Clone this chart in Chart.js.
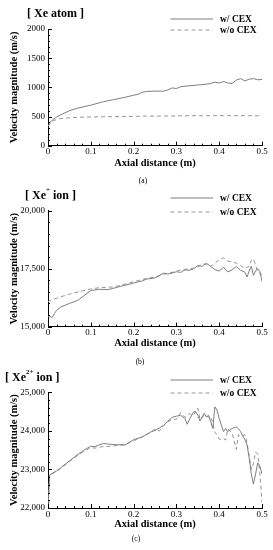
<!DOCTYPE html>
<html><head><meta charset="utf-8">
<script src="https://cdn.jsdelivr.net/npm/chart.js@4/dist/chart.umd.min.js"></script>
<style>
html,body{margin:0;padding:0;background:#fff;}
#page{position:relative;width:273px;height:550px;overflow:hidden;background:#fff;font-family:"Liberation Serif","Times New Roman",serif;color:#000;}
canvas{position:absolute;left:0;}
.ttl{position:absolute;font-weight:bold;font-size:12px;white-space:nowrap;line-height:14px;transform:translateY(-50%);}
.ttl sup{font-size:7px;position:relative;top:-1px;vertical-align:top;line-height:7px;}
.cap{position:absolute;font-size:7.5px;line-height:8px;white-space:nowrap;transform:translate(-50%,-50%);}
.legtxt{position:absolute;left:220px;font-weight:bold;font-size:9.5px;line-height:10px;white-space:nowrap;transform:translateY(-50%);}
.legline{position:absolute;left:170px;width:44px;height:4px;transform:translateY(-50%);}
</style></head>
<body><div id="page"></div>
<script>
// ---------- DATA ----------
const xTicks = [0, 0.1, 0.2, 0.3, 0.4, 0.5];
const xTickLabels = ["0", "0.1", "0.2", "0.3", "0.4", "0.5"];
const seriesNames = ["w/ CEX", "w/o CEX"];

// (a) Xe atom
const aX = [0, 0.005, 0.01, 0.02, 0.03, 0.05, 0.07, 0.1, 0.13, 0.15, 0.18, 0.2, 0.21, 0.22, 0.23, 0.25, 0.27, 0.28, 0.29, 0.3, 0.31, 0.32, 0.35, 0.37, 0.38, 0.39, 0.4, 0.41, 0.42, 0.43, 0.44, 0.45, 0.46, 0.47, 0.48, 0.49, 0.5];
const aWith = [337, 400, 440, 490, 530, 600, 645, 695, 755, 785, 830, 865, 880, 915, 930, 935, 935, 955, 990, 980, 1010, 1020, 1040, 1055, 1065, 1090, 1075, 1100, 1075, 1065, 1125, 1150, 1110, 1140, 1150, 1130, 1135];
const aWithout = [330, 380, 420, 450, 465, 480, 487, 492, 496, 498, 500, 503, 504, 505, 506, 507, 508, 509, 510, 511, 512, 513, 514, 514, 515, 515, 515, 515, 515, 515, 515, 515, 515, 514, 513, 512, 512];
const aYTicks = [0, 500, 1000, 1500, 2000];
const aYTickLabels = ["0", "500", "1000", "1500", "2000"];

// (b) Xe+ ion
const bX = [0, 0.005, 0.01, 0.015, 0.02, 0.03, 0.05, 0.07, 0.08, 0.1, 0.12, 0.14, 0.15, 0.17, 0.2, 0.22, 0.23, 0.25, 0.27, 0.28, 0.29, 0.3, 0.31, 0.32, 0.33, 0.34, 0.35, 0.36, 0.37, 0.38, 0.39, 0.4, 0.41, 0.42, 0.43, 0.44, 0.45, 0.46, 0.465, 0.47, 0.475, 0.48, 0.485, 0.49, 0.495, 0.5];
const bWith = [15430, 15420, 15400, 15560, 15700, 15850, 16000, 16140, 16280, 16560, 16610, 16600, 16640, 16740, 16880, 16970, 17050, 17100, 17310, 17270, 17310, 17370, 17340, 17450, 17430, 17490, 17640, 17600, 17740, 17600, 17460, 17400, 17560, 17360, 17450, 17600, 17430, 17350, 17140, 17400, 17600, 17210, 17400, 17500, 17380, 16950];
const bWithout = [16070, 16130, 16170, 16200, 16220, 16290, 16400, 16500, 16540, 16630, 16680, 16700, 16710, 16780, 16940, 17030, 17080, 17140, 17260, 17300, 17340, 17400, 17440, 17470, 17500, 17530, 17570, 17710, 17690, 17600, 17740, 17880, 17970, 17830, 17800, 17740, 17640, 17500, 17560, 17600, 17850, 17930, 17650, 17360, 17300, 17220];
const bYTicks = [15000, 17500, 20000];
const bYTickLabels = ["15,000", "17,500", "20,000"];

// (c) Xe2+ ion
const cX = [0, 0.004, 0.01, 0.02, 0.03, 0.05, 0.07, 0.09, 0.1, 0.11, 0.12, 0.13, 0.15, 0.18, 0.2, 0.22, 0.24, 0.25, 0.26, 0.27, 0.28, 0.29, 0.3, 0.31, 0.32, 0.325, 0.33, 0.34, 0.345, 0.35, 0.355, 0.36, 0.365, 0.37, 0.375, 0.38, 0.385, 0.39, 0.395, 0.4, 0.41, 0.415, 0.42, 0.43, 0.44, 0.445, 0.45, 0.46, 0.465, 0.47, 0.475, 0.48, 0.485, 0.49, 0.495, 0.5];
const cWith = [22000, 22860, 22900, 22960, 23045, 23220, 23390, 23540, 23600, 23590, 23640, 23670, 23645, 23630, 23770, 23840, 23970, 24010, 24070, 24140, 24250, 24350, 24380, 24400, 24320, 24170, 24280, 24490, 24500, 24400, 24250, 24360, 24450, 24360, 24400, 24240, 24060, 24620, 24530, 24320, 23980, 24060, 23980, 24060, 24100, 24050, 23980, 23770, 23640, 23300, 22880, 22620, 22880, 23170, 23090, 22880];
const cWithout = [22000, 22840, 22880, 22950, 23030, 23200, 23370, 23510, 23560, 23550, 23580, 23590, 23600, 23650, 23740, 23840, 23960, 24050, 23990, 24130, 24230, 24300, 24300, 24470, 24350, 24380, 24450, 24400, 24500, 24590, 24300, 24330, 24420, 24380, 24350, 24380, 24200, 23950, 23900, 23780, 23800, 23760, 24050, 23950, 23520, 23900, 23850, 23900, 23700, 23350, 23000, 23150, 23450, 23400, 22900, 22150];
const cYTicks = [22000, 23000, 24000, 25000];
const cYTickLabels = ["22,000", "23,000", "24,000", "25,000"];

// ---------- LAYOUT ----------
const SERIF = '"Liberation Serif","Times New Roman",serif';
const panels = [
  {top:0,   H:183, areaTop:29,    areaBottom:145.7, xTitleY:163.3, x:aX, w:aWith, wo:aWithout, yT:aYTicks, yL:aYTickLabels, yMinor:100,
   title:'[ Xe atom ]', titleX:27, titleY:12.7, leg:[18.7,30.2], cap:'(a)', capX:143, capY:181},
  {top:183, H:183, areaTop:210.8-183, areaBottom:326.6-183, xTitleY:343.3-183, x:bX, w:bWith, wo:bWithout, yT:bYTicks, yL:bYTickLabels, yMinor:500,
   title:'[ Xe<sup>+</sup> ion ]', titleX:25, titleY:195-183, leg:[198.3-183,211.5-183], cap:'(b)', capX:140, capY:361.7-183},
  {top:366, H:184, areaTop:392.2-366, areaBottom:508-366, xTitleY:524-366, x:cX, w:cWith, wo:cWithout, yT:cYTicks, yL:cYTickLabels, yMinor:200,
   title:'[ Xe<sup>2+</sup> ion ]', titleX:5, titleY:376.7-366, leg:[380-366,392.7-366], cap:'(c)', capX:136, capY:539-366}
];

const innerTicks = {
  id:'innerTicks',
  afterDatasetsDraw(chart, args, o){
    const {ctx, chartArea:a, scales:{x, y}} = chart;
    ctx.save(); ctx.strokeStyle = '#000'; ctx.lineWidth = 1; ctx.beginPath();
    const nx = Math.round((x.max - x.min) / o.xMinor);
    for (let i = 0; i <= nx; i++) {
      const px = Math.round(x.getPixelForValue(x.min + i * o.xMinor)) + 0.5;
      const len = i % 5 === 0 ? 4 : 2;
      ctx.moveTo(px, a.bottom); ctx.lineTo(px, a.bottom - len);
    }
    const ny = Math.round((y.max - y.min) / o.yMinor);
    for (let j = 0; j <= ny; j++) {
      const py = Math.round(y.getPixelForValue(y.min + j * o.yMinor)) + 0.5;
      const len = j % 5 === 0 ? 4 : 2;
      ctx.moveTo(a.left, py); ctx.lineTo(a.left + len, py);
    }
    ctx.stroke(); ctx.restore();
  }
};

const page = document.getElementById('page');
const SOLID = '#7f7f7f', DASH = '#959595';

panels.forEach(p => {
  const cv = document.createElement('canvas');
  cv.width = 273; cv.height = p.H; cv.style.top = p.top + 'px';
  cv.style.width = '273px'; cv.style.height = p.H + 'px';
  page.appendChild(cv);

  const lh = 10.5 * 1.2;
  new Chart(cv.getContext('2d'), {
    type:'line',
    data:{ datasets:[
      {label:seriesNames[0], data:p.x.map((v,i)=>({x:v, y:p.w[i]})), borderColor:SOLID, borderWidth:1, pointRadius:0, tension:0, fill:false},
      {label:seriesNames[1], data:p.x.map((v,i)=>({x:v, y:p.wo[i]})), borderColor:DASH, borderWidth:1, borderDash:[4,3], pointRadius:0, tension:0, fill:false}
    ]},
    options:{
      responsive:false, animation:false, devicePixelRatio:1,
      layout:{padding:{top:p.areaTop, right:11, left:0, bottom:0}},
      plugins:{legend:{display:false}, tooltip:{enabled:false}, innerTicks:{xMinor:0.02, yMinor:p.yMinor}},
      scales:{
        x:{type:'linear', min:0, max:0.5,
           afterBuildTicks:s=>{ s.ticks = xTicks.map(v=>({value:v})); },
           afterFit:s=>{ s.height = p.H - p.areaBottom; },
           ticks:{callback:(v,i)=>xTickLabels[i], color:'#000', font:{family:SERIF, size:9}, padding:1, maxRotation:0, autoSkip:false},
           grid:{display:false, drawTicks:false},
           border:{display:true, color:'#000', width:1},
           title:{display:true, text:'Axial distance (m)', color:'#000', font:{family:SERIF, size:10.5, weight:'bold'}, padding:{top:0, bottom:p.H - p.xTitleY - lh/2}}
        },
        y:{type:'linear', min:p.yT[0], max:p.yT[p.yT.length-1],
           afterBuildTicks:s=>{ s.ticks = p.yT.map(v=>({value:v})); },
           afterFit:s=>{ s.width = 48; },
           ticks:{callback:(v,i)=>p.yL[i], color:'#000', font:{family:SERIF, size:9}, padding:3, autoSkip:false},
           grid:{display:false, drawTicks:false},
           border:{display:true, color:'#000', width:1},
           title:{display:true, text:'Velocity magnitude (m/s)', color:'#000', font:{family:SERIF, size:10.5, weight:'bold'}, padding:{top:14 - lh/2, bottom:0}}
        }
      }
    },
    plugins:[innerTicks]
  });

  const t = document.createElement('div');
  t.className = 'ttl'; t.innerHTML = p.title;
  t.style.left = p.titleX + 'px'; t.style.top = (p.top + p.titleY) + 'px';
  page.appendChild(t);

  seriesNames.forEach((name, k) => {
    const y = p.top + p.leg[k];
    const ln = document.createElementNS('http://www.w3.org/2000/svg', 'svg');
    ln.setAttribute('class', 'legline'); ln.setAttribute('width', '44'); ln.setAttribute('height', '4');
    ln.style.top = y + 'px';
    const l = document.createElementNS('http://www.w3.org/2000/svg', 'line');
    l.setAttribute('x1', '0.5'); l.setAttribute('x2', '43'); l.setAttribute('y1', '2'); l.setAttribute('y2', '2');
    l.setAttribute('stroke', k === 0 ? SOLID : DASH); l.setAttribute('stroke-width', '1');
    if (k === 1) l.setAttribute('stroke-dasharray', '4,3');
    ln.appendChild(l); page.appendChild(ln);
    const tx = document.createElement('div');
    tx.className = 'legtxt'; tx.textContent = name; tx.style.top = y + 'px';
    page.appendChild(tx);
  });

  const c = document.createElement('div');
  c.className = 'cap'; c.textContent = p.cap;
  c.style.left = p.capX + 'px'; c.style.top = (p.top + p.capY) + 'px';
  page.appendChild(c);
});
</script></body></html>
